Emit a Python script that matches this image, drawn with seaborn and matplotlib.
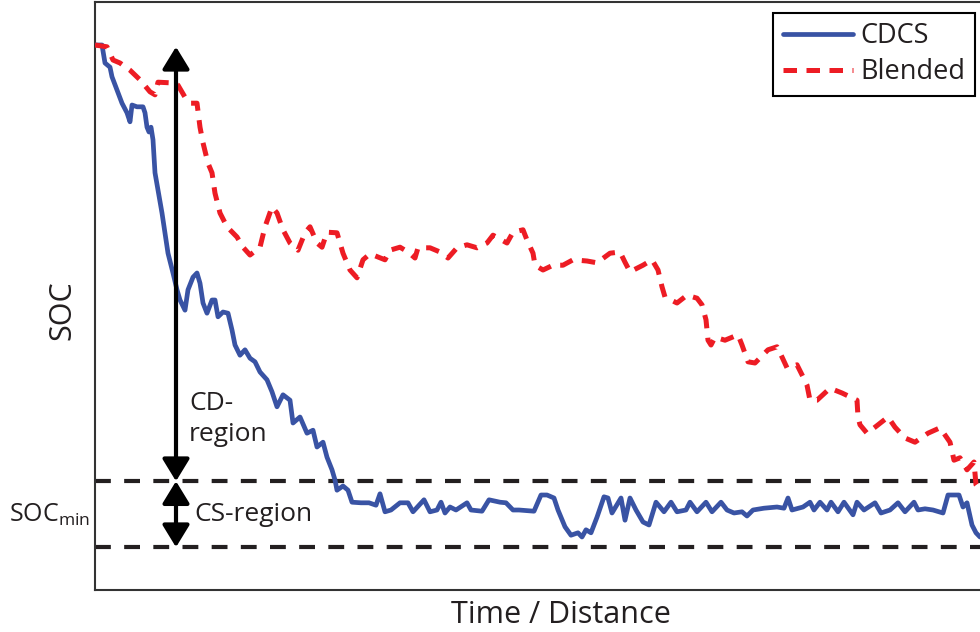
import numpy as np
import pandas as pd
import matplotlib
matplotlib.use("Agg")
import matplotlib.pyplot as plt
import seaborn as sns

# Distance along the trip and battery state of charge (%) for the two strategies
cdcs_x = [0.1, 0.7, 1.0, 1.5, 1.7, 2.2, 2.7, 3.2, 3.5, 3.7, 4.2, 4.8, 5.0, 5.2, 5.4, 5.6, 5.8, 6.0,
          6.3, 6.7, 7.0, 7.3, 7.8, 8.2, 8.5, 9.0, 9.3, 9.8, 10.2, 10.5, 10.8, 11.2, 11.7, 12.0,
          12.3, 12.8, 13.3, 13.7, 14.0, 14.5, 15.0, 15.5, 16.0, 16.5, 17.2, 17.7, 18.2, 18.8,
          19.5, 19.8, 20.5, 21.2, 21.8, 22.2, 22.8, 23.2, 23.7, 24.0, 24.2, 24.8, 25.3, 25.7,
          26.6, 27.4, 28.1, 28.5, 29.0, 29.6, 30.5, 31.3, 31.8, 32.9, 33.5, 34.2, 34.6, 35.0,
          35.5, 36.1, 37.2, 37.6, 38.7, 39.4, 40.5, 41.1, 41.8, 42.4, 43.9, 44.6, 45.2, 45.9,
          46.3, 47.0, 47.6, 48.3, 48.7, 49.1, 49.6, 50.2, 50.9, 51.3, 51.7, 52.6, 53.0, 53.5,
          54.1, 54.8, 55.4, 56.1, 56.9, 57.6, 58.2, 59.1, 59.5, 60.2, 61.1, 61.7, 62.6, 63.2,
          63.9, 64.7, 65.2, 65.8, 66.9, 68.2, 68.9, 69.3, 69.7, 70.8, 71.5, 71.9, 72.5, 73.2,
          73.6, 74.3, 74.9, 75.8, 76.2, 76.9, 78.0, 78.6, 79.5, 80.3, 81.0, 81.9, 82.3, 83.0,
          83.8, 84.8, 85.3, 86.4, 86.8, 87.2, 87.7, 88.1, 88.5]
cdcs_soc = [92.5, 92.5, 89.5, 88.8, 87.2, 85.0, 82.8, 81.2, 79.7, 82.5, 82.2, 82.2, 81.2, 78.8,
            78.0, 78.8, 76.7, 71.2, 68.3, 64.5, 61.2, 57.8, 54.5, 51.7, 50.0, 48.3, 51.7, 53.8,
            54.5, 52.8, 49.5, 47.8, 50.0, 50.0, 47.2, 48.0, 47.8, 45.0, 42.5, 40.8, 41.7, 40.3,
            39.7, 38.0, 36.7, 34.7, 32.2, 34.2, 33.3, 29.5, 30.5, 27.8, 28.3, 25.5, 26.3, 23.8,
            21.7, 20.0, 18.3, 19.0, 18.3, 16.3, 16.2, 16.2, 15.8, 17.7, 14.7, 15.0, 16.2, 16.2,
            14.7, 16.7, 14.7, 15.0, 16.3, 14.5, 15.5, 15.0, 16.2, 15.0, 14.8, 16.7, 16.3, 16.2,
            15.0, 15.0, 14.8, 17.5, 17.5, 17.0, 15.0, 12.2, 10.8, 11.2, 10.5, 11.7, 11.2, 13.8,
            17.2, 17.0, 14.5, 17.0, 13.3, 17.0, 15.0, 13.0, 12.5, 16.3, 14.7, 16.3, 14.7, 15.0,
            16.3, 14.7, 16.3, 14.7, 16.3, 15.0, 14.5, 14.7, 14.0, 15.0, 15.3, 15.5, 15.3, 17.0,
            15.0, 15.5, 16.3, 15.0, 16.3, 15.0, 16.3, 14.7, 16.3, 14.2, 16.3, 15.0, 16.2, 14.5,
            15.0, 16.2, 14.7, 16.3, 15.0, 15.2, 15.0, 14.5, 17.5, 17.5, 15.5, 16.2, 12.5, 11.2,
            10.5]

blended_x = [0.0, 1.2, 1.8, 2.5, 3.5, 4.5, 5.5, 6.0, 6.3, 7.5, 8.3, 9.0, 9.5, 10.2, 10.5, 10.8,
             11.3, 11.7, 12.0, 12.5, 13.2, 14.2, 14.8, 15.5, 16.5, 17.0, 17.7, 18.2, 18.8, 19.5,
             20.3, 21.0, 21.5, 22.2, 22.7, 23.2, 24.2, 24.8, 25.5, 26.2, 26.8, 27.5, 29.0, 29.5,
             30.5, 31.3, 32.0, 32.3, 33.5, 34.5, 35.3, 36.2, 37.2, 38.2, 39.2, 39.8, 41.2, 41.8,
             42.8, 43.2, 43.8, 44.0, 44.8, 45.8, 46.8, 47.8, 49.2, 50.2, 51.5, 52.5, 53.0, 53.5,
             54.8, 55.7, 56.3, 56.7, 57.0, 58.2, 59.2, 60.2, 60.7, 61.1, 61.3, 61.6, 62.0, 63.0,
             64.3, 64.7, 65.3, 66.0, 67.3, 68.2, 68.7, 69.2, 70.2, 70.8, 71.2, 71.5, 72.2, 73.5,
             74.7, 76.2, 76.3, 76.5, 77.2, 78.0, 79.3, 80.0, 81.0, 82.0, 83.3, 84.5, 85.5, 85.9,
             86.5, 87.2, 87.9, 88.1, 88.5]
blended_soc = [92.5, 92.2, 90.0, 89.5, 88.3, 86.7, 84.7, 84.2, 86.3, 86.2, 85.8, 83.8, 82.8,
               82.8, 78.8, 76.2, 72.8, 71.2, 67.8, 64.5, 62.2, 60.5, 58.8, 57.5, 58.8, 62.2,
               65.5, 64.5, 61.7, 59.5, 58.3, 61.2, 62.2, 59.5, 58.8, 61.3, 61.2, 57.8, 55.0,
               53.7, 56.7, 57.7, 56.7, 58.3, 58.8, 58.0, 57.0, 58.7, 58.7, 58.0, 57.0, 58.7,
               59.2, 58.7, 59.5, 60.8, 59.5, 61.3, 61.7, 60.0, 57.8, 55.8, 55.0, 55.8, 55.8,
               56.7, 56.5, 56.2, 57.8, 58.0, 56.3, 54.7, 55.8, 56.7, 55.0, 52.2, 50.5, 49.5,
               50.8, 50.3, 49.2, 46.7, 43.3, 42.5, 43.8, 43.3, 44.2, 42.5, 39.7, 39.5, 41.7,
               42.2, 40.5, 38.7, 39.2, 37.2, 35.8, 33.3, 33.3, 35.3, 34.5, 33.3, 30.5, 29.2,
               27.8, 28.8, 30.5, 28.8, 27.0, 26.3, 27.8, 28.7, 26.3, 23.3, 23.7, 21.7, 23.0,
               19.2, 18.3]

series_names = ["CDCS", "Blended"]
cs_upper = 19.8     # start of the charge-sustaining band
soc_min = 8.8       # lower SOC limit
arrow_x = 8.1

sns.set_style("white")
plt.rcParams["font.family"] = ["Open Sans", "DejaVu Sans"]
plt.rcParams["mathtext.fontset"] = "custom"
plt.rcParams["mathtext.rm"] = "Open Sans"
plt.rcParams["mathtext.it"] = "Open Sans"

fig = plt.figure(figsize=(9.8, 6.32), dpi=100)
ax = fig.add_axes([95 / 980, 42 / 632, 1 - 95 / 980, 588 / 632])

blue = "#3953a4"
red = "#ed1c24"
dark = "#231f20"

cdcs = pd.DataFrame({"x": cdcs_x, "soc": cdcs_soc})
blended = pd.DataFrame({"x": blended_x, "soc": blended_soc})

sns.lineplot(data=cdcs, x="x", y="soc", ax=ax, color=blue, lw=3.4,
             label=series_names[0], zorder=3,
             solid_joinstyle="round", solid_capstyle="round")
sns.lineplot(data=blended, x="x", y="soc", ax=ax, color=red, lw=3.6,
             label=series_names[1], zorder=3, dash_joinstyle="round")
ax.lines[-1].set_dashes((2.7, 1.9))

for level in (cs_upper, soc_min):
    ax.axhline(level, color=dark, lw=3.0, dashes=(3.8, 3.2), zorder=2)

arrow_props = dict(arrowstyle="<|-|>,head_length=0.9,head_width=0.55",
                   mutation_scale=15, lw=3.0, color="black",
                   shrinkA=0, shrinkB=0)
ax.annotate("", xy=(arrow_x, 92.2), xytext=(arrow_x, cs_upper),
            arrowprops=arrow_props, zorder=4)
ax.annotate("", xy=(arrow_x, cs_upper), xytext=(arrow_x, soc_min),
            arrowprops=arrow_props, zorder=4)

ax.text(9.4, 34.8, "CD-\nregion", fontsize=19, color=dark, va="top", ha="left",
        linespacing=1.3)
ax.text(9.9, 14.3, "CS-region", fontsize=19, color=dark, va="center", ha="left")
fig.text(90 / 980, 1 - 515 / 632, r"SOC$_{\mathrm{min}}$", fontsize=18, color=dark,
         ha="right", va="center")

fig.text(62 / 980, 1 - 310 / 632, "SOC", fontsize=22, color=dark, rotation=90,
         ha="center", va="center")
fig.text(561 / 980, 1 - 615 / 632, "Time / Distance", fontsize=22, color=dark,
         ha="center", va="center")

ax.set_xlim(0, 88.5)
ax.set_ylim(1.667, 99.667)
ax.set_xticks([])
ax.set_yticks([])
ax.set_xlabel("")
ax.set_ylabel("")
for side in ("left", "bottom", "top"):
    ax.spines[side].set_color("#333333")
    ax.spines[side].set_linewidth(1.5)
ax.spines["right"].set_visible(False)

leg = ax.legend(loc="upper right", bbox_to_anchor=(975 / 980, 1 - 13 / 632),
                bbox_transform=fig.transFigure, borderaxespad=0, fontsize=19.5,
                frameon=True, fancybox=False, edgecolor="black", framealpha=1,
                handlelength=2.6, handletextpad=0.28, labelspacing=0.28,
                borderpad=0.35)
leg.get_frame().set_linewidth(1.5)
for text in leg.get_texts():
    text.set_color(dark)

fig.savefig("out.png", dpi=100)
